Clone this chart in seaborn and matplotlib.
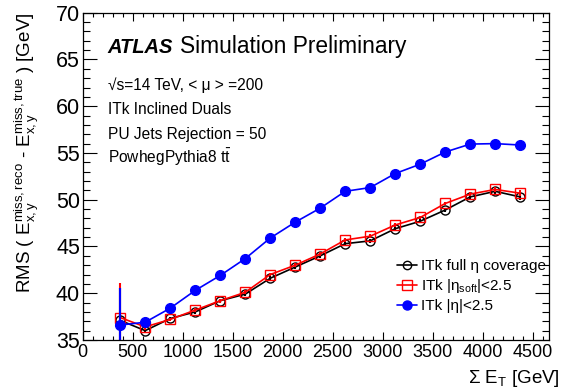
import numpy as np
import pandas as pd
import matplotlib
matplotlib.use("Agg")
import matplotlib.pyplot as plt
from matplotlib.ticker import MultipleLocator
from matplotlib.lines import Line2D
import seaborn as sns

sum_et = [375, 625, 875, 1125, 1375, 1625, 1875, 2125, 2375, 2625, 2875,
          3125, 3375, 3625, 3875, 4125, 4375]
full_eta = [37.1, 36.0, 37.3, 38.0, 39.2, 39.9, 41.6, 42.8, 44.0, 45.3, 45.6,
            46.9, 47.7, 48.9, 50.3, 50.9, 50.3]
soft_eta = [37.4, 36.4, 37.2, 38.2, 39.2, 40.1, 42.0, 43.0, 44.2, 45.7, 46.1,
            47.3, 48.1, 49.6, 50.6, 51.1, 50.7]
eta_25 = [36.6, 36.9, 38.4, 40.3, 41.9, 43.7, 45.9, 47.6, 49.1, 50.9, 51.3,
          52.8, 53.8, 55.1, 55.95, 56.0, 55.85]
err_full = [3.5, 0.3, 0.2, 0.2, 0.2, 0.2, 0.2, 0.2, 0.2, 0.2, 0.2, 0.2, 0.2, 0.2, 0.2, 0.3, 0.3]
err_soft = [3.7, 0.3, 0.2, 0.2, 0.2, 0.2, 0.2, 0.2, 0.2, 0.2, 0.2, 0.2, 0.2, 0.2, 0.2, 0.3, 0.3]
err_eta = [4.0, 0.3, 0.2, 0.2, 0.2, 0.2, 0.2, 0.2, 0.2, 0.2, 0.2, 0.2, 0.2, 0.2, 0.2, 0.3, 0.3]
labels = ["ITk full η coverage", r"ITk |η$_{\mathrm{soft}}$|<2.5", "ITk |η|<2.5"]

sns.set_theme(style="ticks")
plt.rcParams["font.family"] = ["Liberation Sans", "DejaVu Sans"]
plt.rcParams["mathtext.fontset"] = "custom"
plt.rcParams["mathtext.rm"] = "Liberation Sans"
plt.rcParams["mathtext.it"] = "Liberation Sans:italic"
plt.rcParams["mathtext.bf"] = "Liberation Sans:bold"
for k in ["text.color", "axes.labelcolor", "xtick.color", "ytick.color", "axes.edgecolor"]:
    plt.rcParams[k] = "black"

fig = plt.figure(figsize=(5.63, 3.92), dpi=100)
ax = fig.add_axes([82.7 / 563, 52 / 392, (549.3 - 82.7) / 563, (340 - 12.7) / 392])

series = [
    (full_eta, err_full, "black", "o", "none", 6.5, labels[0]),
    (soft_eta, err_soft, "red", "s", "none", 7, labels[1]),
    (eta_25, err_eta, "blue", "o", "blue", 7, labels[2]),
]
handles = []
for vals, errs, col, mk, mfc, ms, lab in series:
    df = pd.DataFrame({"x": sum_et, "y": vals})
    sns.lineplot(data=df, x="x", y="y", ax=ax, color=col, lw=1.2,
                 marker=mk, markersize=ms, markerfacecolor=mfc,
                 markeredgecolor=col, markeredgewidth=1.0)
    ax.errorbar(sum_et, vals, yerr=errs, fmt="none", ecolor=col, elinewidth=1.5, capsize=0)
    handles.append(Line2D([], [], color=col, lw=1.2, marker=mk, markersize=ms - 0.5,
                          markerfacecolor=mfc, markeredgecolor=col, label=lab))

ax.set_xlim(0, 4666)
ax.set_ylim(35, 70)
ax.xaxis.set_major_locator(MultipleLocator(500))
ax.xaxis.set_minor_locator(MultipleLocator(100))
ax.yaxis.set_major_locator(MultipleLocator(5))
ax.yaxis.set_minor_locator(MultipleLocator(1))
ax.tick_params(axis="both", which="both", direction="in", top=True, right=True,
               width=0.8, colors="black")
ax.tick_params(axis="x", which="major", length=6, pad=3, labelsize=13)
ax.tick_params(axis="x", which="minor", length=3)
ax.tick_params(axis="y", which="major", length=10, pad=2, labelsize=15.5)
ax.tick_params(axis="y", which="minor", length=5)
for s in ax.spines.values():
    s.set_linewidth(0.9)
    s.set_color("black")

ax.set_xlabel(r"Σ E$_{\mathrm{T}}$ [GeV]", fontsize=13.5, loc="right")
ax.xaxis.set_label_coords(1.023, -0.085)
ax.set_ylabel(r"RMS ( E$_{\mathrm{x,y}}^{\mathrm{miss,reco}}$ - E$_{\mathrm{x,y}}^{\mathrm{miss,true}}$ ) [GeV]",
              fontsize=13.5, loc="top")
ax.yaxis.set_label_coords(-0.09, 1.0)

ax.text(0.054, 0.878, "ATLAS", transform=ax.transAxes, fontsize=14.5,
        fontweight="bold", fontstyle="italic", va="baseline")
ax.text(0.209, 0.878, "Simulation Preliminary", transform=ax.transAxes, fontsize=16.4,
        va="baseline")
info = ["√s=14 TeV, < μ > =200", "ITk Inclined Duals", "PU Jets Rejection = 50",
        r"PowhegPythia8 t$\bar{\mathrm{t}}$"]
for i, t in enumerate(info):
    ax.text(0.054, 0.763 - i * 0.074, t, transform=ax.transAxes, fontsize=11.2,
            va="baseline")

ax.legend(handles=handles, loc="upper left", bbox_to_anchor=(0.66, 0.265), frameon=False,
          fontsize=11, handlelength=1.3, handletextpad=0.3, labelspacing=0.25,
          borderaxespad=0)

fig.savefig("out.png", dpi=100)
